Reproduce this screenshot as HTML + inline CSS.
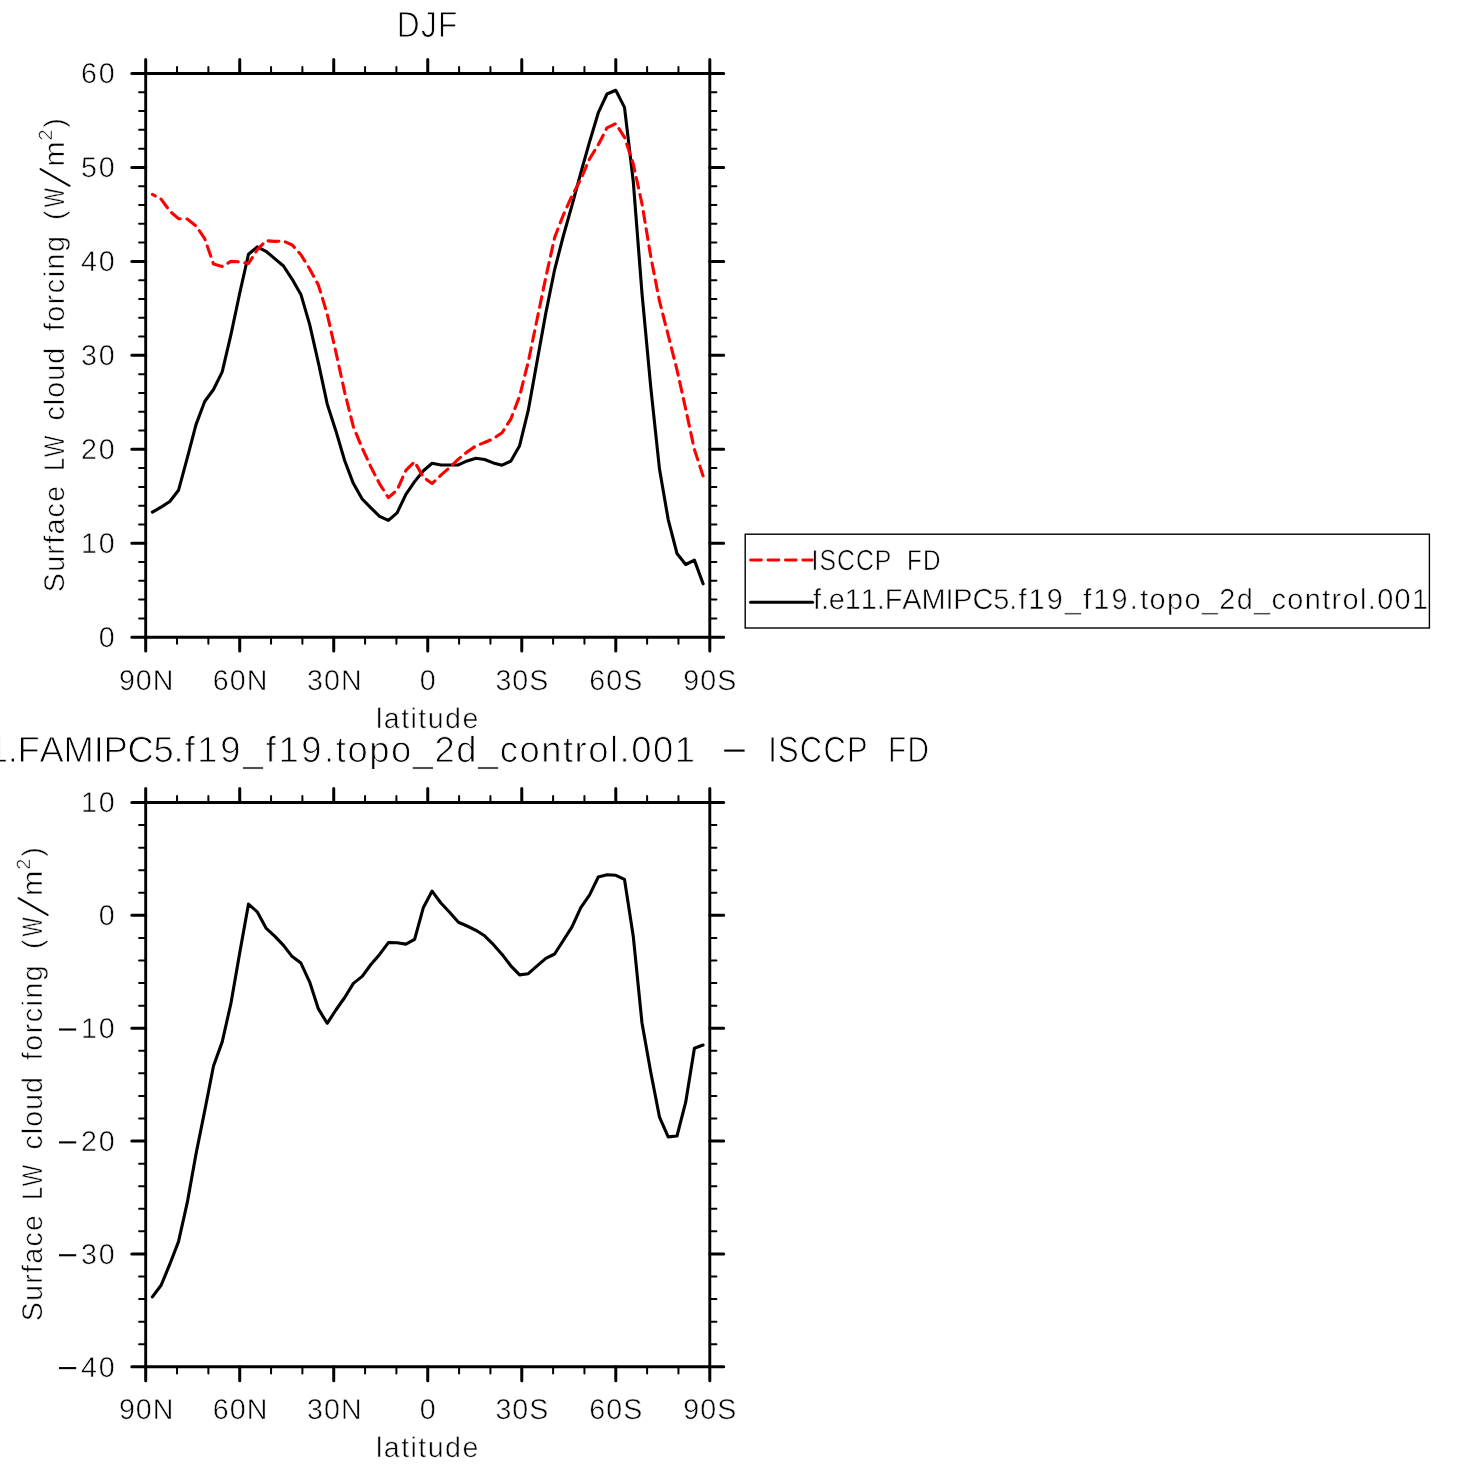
<!DOCTYPE html>
<html><head><meta charset="utf-8"><style>html,body{margin:0;padding:0;background:#fff;width:1469px;height:1469px;overflow:hidden}svg{display:block;will-change:transform}</style></head>
<body>
<svg width="1469" height="1469" viewBox="0 0 1469 1469">
<rect width="1469" height="1469" fill="#fff"/>
<g font-family="Liberation Sans, sans-serif" fill="#000" text-rendering="geometricPrecision">
<text transform="translate(396.80,36.80) scale(0.8701,1)" x="0.00 27.79 47.49" y="0" font-size="36.4" stroke="#fff" stroke-width="0.9">DJF</text>
<text transform="translate(-72.12,762.00) scale(1.0000,1)" x="0.00 9.87 19.75 39.75 59.76 79.76 89.64 111.64 135.68 165.76 175.63 199.67 225.72 245.73" y="0" font-size="36.4" stroke="#fff" stroke-width="0.9">f.e11.FAMIPC5.</text>
<text transform="translate(184.68,762.00) scale(1.0000,1)" x="0.00 12.68 35.49 58.31 81.12 93.80 116.61 139.43" y="0" font-size="36.4" stroke="#fff" stroke-width="0.9">f19_f19.</text>
<text transform="translate(335.75,762.00) scale(1.0000,1)" x="0.00 11.63 33.39 55.15 76.91 98.67 120.44 142.20 163.96 183.68 205.44 227.20 238.83 252.47 274.23 283.83 295.46 317.22 338.98" y="0" font-size="36.4" stroke="#fff" stroke-width="0.9">topo_2d_control.001</text>
<path d="M724.2,750.6 H744.6" stroke="#000" stroke-width="2.1"/>
<text transform="translate(768.15,762.00) scale(0.8485,1)" x="0.00 11.61 37.39 65.18 92.97" y="0" font-size="36.4" stroke="#fff" stroke-width="0.9">ISCCP</text>
<text transform="translate(888.07,762.00) scale(0.8147,1)" x="0.00 23.73" y="0" font-size="36.4" stroke="#fff" stroke-width="0.9">FD</text>
<text transform="translate(98.71,647.00) scale(1.0000,1)" x="0.00" y="0" font-size="28.6" stroke="#fff" stroke-width="0.55">0</text>
<text transform="translate(81.05,553.05) scale(1.0000,1)" x="0.00 17.67" y="0" font-size="28.6" stroke="#fff" stroke-width="0.55">10</text>
<text transform="translate(81.05,459.10) scale(1.0000,1)" x="0.00 17.67" y="0" font-size="28.6" stroke="#fff" stroke-width="0.55">20</text>
<text transform="translate(81.05,365.15) scale(1.0000,1)" x="0.00 17.67" y="0" font-size="28.6" stroke="#fff" stroke-width="0.55">30</text>
<text transform="translate(81.05,271.20) scale(1.0000,1)" x="0.00 17.67" y="0" font-size="28.6" stroke="#fff" stroke-width="0.55">40</text>
<text transform="translate(81.05,177.25) scale(1.0000,1)" x="0.00 17.67" y="0" font-size="28.6" stroke="#fff" stroke-width="0.55">50</text>
<text transform="translate(81.05,83.30) scale(1.0000,1)" x="0.00 17.67" y="0" font-size="28.6" stroke="#fff" stroke-width="0.55">60</text>
<text transform="translate(81.05,812.30) scale(1.0000,1)" x="0.00 17.67" y="0" font-size="28.6" stroke="#fff" stroke-width="0.55">10</text>
<text transform="translate(98.71,925.16) scale(1.0000,1)" x="0.00" y="0" font-size="28.6" stroke="#fff" stroke-width="0.55">0</text>
<text transform="translate(81.05,1038.02) scale(1.0000,1)" x="0.00 17.67" y="0" font-size="28.6" stroke="#fff" stroke-width="0.55">10</text>
<path d="M59,1029.52 H76.2" stroke="#000" stroke-width="2.1"/>
<text transform="translate(81.05,1150.88) scale(1.0000,1)" x="0.00 17.67" y="0" font-size="28.6" stroke="#fff" stroke-width="0.55">20</text>
<path d="M59,1142.38 H76.2" stroke="#000" stroke-width="2.1"/>
<text transform="translate(81.05,1263.74) scale(1.0000,1)" x="0.00 17.67" y="0" font-size="28.6" stroke="#fff" stroke-width="0.55">30</text>
<path d="M59,1255.24 H76.2" stroke="#000" stroke-width="2.1"/>
<text transform="translate(81.05,1376.60) scale(1.0000,1)" x="0.00 17.67" y="0" font-size="28.6" stroke="#fff" stroke-width="0.55">40</text>
<path d="M59,1368.10 H76.2" stroke="#000" stroke-width="2.1"/>
<text transform="translate(118.91,689.70) scale(1.0000,1)" x="0.00 16.96 33.91" y="0" font-size="28.6" stroke="#fff" stroke-width="0.55">90N</text>
<text transform="translate(118.91,1419.10) scale(1.0000,1)" x="0.00 16.96 33.91" y="0" font-size="28.6" stroke="#fff" stroke-width="0.55">90N</text>
<text transform="translate(212.87,689.70) scale(1.0000,1)" x="0.00 16.96 33.91" y="0" font-size="28.6" stroke="#fff" stroke-width="0.55">60N</text>
<text transform="translate(212.87,1419.10) scale(1.0000,1)" x="0.00 16.96 33.91" y="0" font-size="28.6" stroke="#fff" stroke-width="0.55">60N</text>
<text transform="translate(307.07,689.70) scale(1.0000,1)" x="0.00 16.96 33.91" y="0" font-size="28.6" stroke="#fff" stroke-width="0.55">30N</text>
<text transform="translate(307.07,1419.10) scale(1.0000,1)" x="0.00 16.96 33.91" y="0" font-size="28.6" stroke="#fff" stroke-width="0.55">30N</text>
<text transform="translate(419.80,689.70) scale(1.0000,1)" x="0.00" y="0" font-size="28.6" stroke="#fff" stroke-width="0.55">0</text>
<text transform="translate(419.80,1419.10) scale(1.0000,1)" x="0.00" y="0" font-size="28.6" stroke="#fff" stroke-width="0.55">0</text>
<text transform="translate(495.38,689.70) scale(1.0000,1)" x="0.00 16.96 33.91" y="0" font-size="28.6" stroke="#fff" stroke-width="0.55">30S</text>
<text transform="translate(495.38,1419.10) scale(1.0000,1)" x="0.00 16.96 33.91" y="0" font-size="28.6" stroke="#fff" stroke-width="0.55">30S</text>
<text transform="translate(589.22,689.70) scale(1.0000,1)" x="0.00 16.96 33.91" y="0" font-size="28.6" stroke="#fff" stroke-width="0.55">60S</text>
<text transform="translate(589.22,1419.10) scale(1.0000,1)" x="0.00 16.96 33.91" y="0" font-size="28.6" stroke="#fff" stroke-width="0.55">60S</text>
<text transform="translate(683.29,689.70) scale(1.0000,1)" x="0.00 16.96 33.91" y="0" font-size="28.6" stroke="#fff" stroke-width="0.55">90S</text>
<text transform="translate(683.29,1419.10) scale(1.0000,1)" x="0.00 16.96 33.91" y="0" font-size="28.6" stroke="#fff" stroke-width="0.55">90S</text>
<text transform="translate(375.97,727.80) scale(1.0000,1)" x="0.00 7.81 25.17 34.57 42.37 51.77 69.13 86.49" y="0" font-size="28.6" stroke="#fff" stroke-width="0.55">latitude</text>
<text transform="translate(375.97,1456.80) scale(1.0000,1)" x="0.00 7.81 25.17 34.57 42.37 51.77 69.13 86.49" y="0" font-size="28.6" stroke="#fff" stroke-width="0.55">latitude</text>
<text transform="translate(63.70,592.20) rotate(-90) scale(1.0000,1)" x="0.00 20.36 37.55 48.36 57.59 74.78 90.36" y="0" font-size="28.6" stroke="#fff" stroke-width="0.55">Surface</text>
<text transform="translate(63.70,470.46) rotate(-90) scale(0.7936,1)" x="0.00 16.91" y="0" font-size="28.6" stroke="#fff" stroke-width="0.55">LW</text>
<text transform="translate(63.70,420.51) rotate(-90) scale(1.0000,1)" x="0.00 15.35 22.75 39.70 56.65" y="0" font-size="28.6" stroke="#fff" stroke-width="0.55">cloud</text>
<text transform="translate(63.70,331.10) rotate(-90) scale(1.0000,1)" x="0.00 9.46 26.89 37.93 53.75 61.62 79.04" y="0" font-size="28.6" stroke="#fff" stroke-width="0.55">forcing</text>
<text transform="translate(63.70,219.98) rotate(-90) scale(1.0023,1)" x="0.00" y="0" font-size="28.6" stroke="#fff" stroke-width="0.55">(</text>
<text transform="translate(63.70,207.29) rotate(-90) scale(0.7097,1)" x="0.00" y="0" font-size="28.6" stroke="#fff" stroke-width="0.55">W</text>
<text transform="translate(63.70,166.83) rotate(-90) scale(1.0679,1)" x="0.00" y="0" font-size="28.6" stroke="#fff" stroke-width="0.55">m</text>
<text transform="translate(63.70,127.77) rotate(-90) scale(1.0023,1)" x="0.00" y="0" font-size="28.6" stroke="#fff" stroke-width="0.55">)</text>
<path d="M40.50,169.10 L69.60,185.80" stroke="#000" stroke-width="2.0" stroke-linecap="round"/>
<text transform="translate(51.80,140.60) rotate(-90) scale(1.040,1)" x="0" y="0" font-size="19.2" stroke="#fff" stroke-width="0.55">2</text>
<text transform="translate(41.70,1321.30) rotate(-90) scale(1.0000,1)" x="0.00 20.36 37.55 48.36 57.59 74.78 90.36" y="0" font-size="28.6" stroke="#fff" stroke-width="0.55">Surface</text>
<text transform="translate(41.70,1199.56) rotate(-90) scale(0.7936,1)" x="0.00 16.91" y="0" font-size="28.6" stroke="#fff" stroke-width="0.55">LW</text>
<text transform="translate(41.70,1149.61) rotate(-90) scale(1.0000,1)" x="0.00 15.35 22.75 39.70 56.65" y="0" font-size="28.6" stroke="#fff" stroke-width="0.55">cloud</text>
<text transform="translate(41.70,1060.20) rotate(-90) scale(1.0000,1)" x="0.00 9.46 26.89 37.93 53.75 61.62 79.04" y="0" font-size="28.6" stroke="#fff" stroke-width="0.55">forcing</text>
<text transform="translate(41.70,949.08) rotate(-90) scale(1.0023,1)" x="0.00" y="0" font-size="28.6" stroke="#fff" stroke-width="0.55">(</text>
<text transform="translate(41.70,936.39) rotate(-90) scale(0.7097,1)" x="0.00" y="0" font-size="28.6" stroke="#fff" stroke-width="0.55">W</text>
<text transform="translate(41.70,895.93) rotate(-90) scale(1.0679,1)" x="0.00" y="0" font-size="28.6" stroke="#fff" stroke-width="0.55">m</text>
<text transform="translate(41.70,856.87) rotate(-90) scale(1.0023,1)" x="0.00" y="0" font-size="28.6" stroke="#fff" stroke-width="0.55">)</text>
<path d="M18.50,898.20 L47.60,914.90" stroke="#000" stroke-width="2.0" stroke-linecap="round"/>
<text transform="translate(29.80,869.70) rotate(-90) scale(1.040,1)" x="0" y="0" font-size="19.2" stroke="#fff" stroke-width="0.55">2</text>
<rect x="745.2" y="534.2" width="684.2" height="93.8" fill="none" stroke="#000" stroke-width="1.4"/>
<path d="M750.6,560 H812.6" stroke="#f00" stroke-width="2.9" stroke-dasharray="10.8 6.6" stroke-linecap="round"/>
<path d="M750.6,602.3 H812.6" stroke="#000" stroke-width="3.1" stroke-linecap="round"/>
<text transform="translate(811.51,570.00) scale(0.8580,1)" x="0.00 9.23 29.71 51.78 73.85" y="0" font-size="28.9" stroke="#fff" stroke-width="0.55">ISCCP</text>
<text transform="translate(907.12,570.00) scale(0.8368,1)" x="0.00 18.85" y="0" font-size="28.9" stroke="#fff" stroke-width="0.55">FD</text>
<text transform="translate(812.99,609.00) scale(1.0000,1)" x="0.00 7.93 15.87 31.85 47.82 63.80 71.73 89.29 108.47 132.45 140.39 159.57 180.34 196.32" y="0" font-size="28.9" stroke="#fff" stroke-width="0.55">f.e11.FAMIPC5.</text>
<text transform="translate(1018.39,609.00) scale(1.0000,1)" x="0.00 10.17 28.39 46.60 64.82 74.99 93.20 111.42" y="0" font-size="28.9" stroke="#fff" stroke-width="0.55">f19_f19.</text>
<text transform="translate(1140.16,609.00) scale(1.0000,1)" x="0.00 9.39 26.82 44.24 61.67 79.10 96.53 113.96 131.39 147.20 164.63 182.06 191.44 202.42 219.85 227.63 237.02 254.45 271.88" y="0" font-size="28.9" stroke="#fff" stroke-width="0.55">topo_2d_control.001</text>
</g>
<path d="M145.7,73.5 H709.8 V637.2 H145.7 Z" fill="none" stroke="#000" stroke-width="2.9"/>
<path d="M145.70,73.5 V59.6 M145.70,637.2 V651.1" stroke="#000" stroke-width="3" stroke-linecap="round"/>
<path d="M177.04,73.5 V66.9 M177.04,637.2 V643.8000000000001" stroke="#000" stroke-width="2" stroke-linecap="round"/>
<path d="M208.38,73.5 V66.9 M208.38,637.2 V643.8000000000001" stroke="#000" stroke-width="2" stroke-linecap="round"/>
<path d="M239.72,73.5 V59.6 M239.72,637.2 V651.1" stroke="#000" stroke-width="3" stroke-linecap="round"/>
<path d="M271.06,73.5 V66.9 M271.06,637.2 V643.8000000000001" stroke="#000" stroke-width="2" stroke-linecap="round"/>
<path d="M302.39,73.5 V66.9 M302.39,637.2 V643.8000000000001" stroke="#000" stroke-width="2" stroke-linecap="round"/>
<path d="M333.73,73.5 V59.6 M333.73,637.2 V651.1" stroke="#000" stroke-width="3" stroke-linecap="round"/>
<path d="M365.07,73.5 V66.9 M365.07,637.2 V643.8000000000001" stroke="#000" stroke-width="2" stroke-linecap="round"/>
<path d="M396.41,73.5 V66.9 M396.41,637.2 V643.8000000000001" stroke="#000" stroke-width="2" stroke-linecap="round"/>
<path d="M427.75,73.5 V59.6 M427.75,637.2 V651.1" stroke="#000" stroke-width="3" stroke-linecap="round"/>
<path d="M459.09,73.5 V66.9 M459.09,637.2 V643.8000000000001" stroke="#000" stroke-width="2" stroke-linecap="round"/>
<path d="M490.43,73.5 V66.9 M490.43,637.2 V643.8000000000001" stroke="#000" stroke-width="2" stroke-linecap="round"/>
<path d="M521.77,73.5 V59.6 M521.77,637.2 V651.1" stroke="#000" stroke-width="3" stroke-linecap="round"/>
<path d="M553.11,73.5 V66.9 M553.11,637.2 V643.8000000000001" stroke="#000" stroke-width="2" stroke-linecap="round"/>
<path d="M584.44,73.5 V66.9 M584.44,637.2 V643.8000000000001" stroke="#000" stroke-width="2" stroke-linecap="round"/>
<path d="M615.78,73.5 V59.6 M615.78,637.2 V651.1" stroke="#000" stroke-width="3" stroke-linecap="round"/>
<path d="M647.12,73.5 V66.9 M647.12,637.2 V643.8000000000001" stroke="#000" stroke-width="2" stroke-linecap="round"/>
<path d="M678.46,73.5 V66.9 M678.46,637.2 V643.8000000000001" stroke="#000" stroke-width="2" stroke-linecap="round"/>
<path d="M709.80,73.5 V59.6 M709.80,637.2 V651.1" stroke="#000" stroke-width="3" stroke-linecap="round"/>
<path d="M145.7,637.20 H131.79999999999998 M709.8,637.20 H723.6999999999999" stroke="#000" stroke-width="3" stroke-linecap="round"/>
<path d="M145.7,618.41 H139.1 M709.8,618.41 H716.4" stroke="#000" stroke-width="2" stroke-linecap="round"/>
<path d="M145.7,599.62 H139.1 M709.8,599.62 H716.4" stroke="#000" stroke-width="2" stroke-linecap="round"/>
<path d="M145.7,580.83 H139.1 M709.8,580.83 H716.4" stroke="#000" stroke-width="2" stroke-linecap="round"/>
<path d="M145.7,562.04 H139.1 M709.8,562.04 H716.4" stroke="#000" stroke-width="2" stroke-linecap="round"/>
<path d="M145.7,543.25 H131.79999999999998 M709.8,543.25 H723.6999999999999" stroke="#000" stroke-width="3" stroke-linecap="round"/>
<path d="M145.7,524.46 H139.1 M709.8,524.46 H716.4" stroke="#000" stroke-width="2" stroke-linecap="round"/>
<path d="M145.7,505.67 H139.1 M709.8,505.67 H716.4" stroke="#000" stroke-width="2" stroke-linecap="round"/>
<path d="M145.7,486.88 H139.1 M709.8,486.88 H716.4" stroke="#000" stroke-width="2" stroke-linecap="round"/>
<path d="M145.7,468.09 H139.1 M709.8,468.09 H716.4" stroke="#000" stroke-width="2" stroke-linecap="round"/>
<path d="M145.7,449.30 H131.79999999999998 M709.8,449.30 H723.6999999999999" stroke="#000" stroke-width="3" stroke-linecap="round"/>
<path d="M145.7,430.51 H139.1 M709.8,430.51 H716.4" stroke="#000" stroke-width="2" stroke-linecap="round"/>
<path d="M145.7,411.72 H139.1 M709.8,411.72 H716.4" stroke="#000" stroke-width="2" stroke-linecap="round"/>
<path d="M145.7,392.93 H139.1 M709.8,392.93 H716.4" stroke="#000" stroke-width="2" stroke-linecap="round"/>
<path d="M145.7,374.14 H139.1 M709.8,374.14 H716.4" stroke="#000" stroke-width="2" stroke-linecap="round"/>
<path d="M145.7,355.35 H131.79999999999998 M709.8,355.35 H723.6999999999999" stroke="#000" stroke-width="3" stroke-linecap="round"/>
<path d="M145.7,336.56 H139.1 M709.8,336.56 H716.4" stroke="#000" stroke-width="2" stroke-linecap="round"/>
<path d="M145.7,317.77 H139.1 M709.8,317.77 H716.4" stroke="#000" stroke-width="2" stroke-linecap="round"/>
<path d="M145.7,298.98 H139.1 M709.8,298.98 H716.4" stroke="#000" stroke-width="2" stroke-linecap="round"/>
<path d="M145.7,280.19 H139.1 M709.8,280.19 H716.4" stroke="#000" stroke-width="2" stroke-linecap="round"/>
<path d="M145.7,261.40 H131.79999999999998 M709.8,261.40 H723.6999999999999" stroke="#000" stroke-width="3" stroke-linecap="round"/>
<path d="M145.7,242.61 H139.1 M709.8,242.61 H716.4" stroke="#000" stroke-width="2" stroke-linecap="round"/>
<path d="M145.7,223.82 H139.1 M709.8,223.82 H716.4" stroke="#000" stroke-width="2" stroke-linecap="round"/>
<path d="M145.7,205.03 H139.1 M709.8,205.03 H716.4" stroke="#000" stroke-width="2" stroke-linecap="round"/>
<path d="M145.7,186.24 H139.1 M709.8,186.24 H716.4" stroke="#000" stroke-width="2" stroke-linecap="round"/>
<path d="M145.7,167.45 H131.79999999999998 M709.8,167.45 H723.6999999999999" stroke="#000" stroke-width="3" stroke-linecap="round"/>
<path d="M145.7,148.66 H139.1 M709.8,148.66 H716.4" stroke="#000" stroke-width="2" stroke-linecap="round"/>
<path d="M145.7,129.87 H139.1 M709.8,129.87 H716.4" stroke="#000" stroke-width="2" stroke-linecap="round"/>
<path d="M145.7,111.08 H139.1 M709.8,111.08 H716.4" stroke="#000" stroke-width="2" stroke-linecap="round"/>
<path d="M145.7,92.29 H139.1 M709.8,92.29 H716.4" stroke="#000" stroke-width="2" stroke-linecap="round"/>
<path d="M145.7,73.50 H131.79999999999998 M709.8,73.50 H723.6999999999999" stroke="#000" stroke-width="3" stroke-linecap="round"/>
<path d="M145.7,802.5 H709.8 V1366.8 H145.7 Z" fill="none" stroke="#000" stroke-width="2.9"/>
<path d="M145.70,802.5 V788.6 M145.70,1366.8 V1380.7" stroke="#000" stroke-width="3" stroke-linecap="round"/>
<path d="M177.04,802.5 V795.9 M177.04,1366.8 V1373.3999999999999" stroke="#000" stroke-width="2" stroke-linecap="round"/>
<path d="M208.38,802.5 V795.9 M208.38,1366.8 V1373.3999999999999" stroke="#000" stroke-width="2" stroke-linecap="round"/>
<path d="M239.72,802.5 V788.6 M239.72,1366.8 V1380.7" stroke="#000" stroke-width="3" stroke-linecap="round"/>
<path d="M271.06,802.5 V795.9 M271.06,1366.8 V1373.3999999999999" stroke="#000" stroke-width="2" stroke-linecap="round"/>
<path d="M302.39,802.5 V795.9 M302.39,1366.8 V1373.3999999999999" stroke="#000" stroke-width="2" stroke-linecap="round"/>
<path d="M333.73,802.5 V788.6 M333.73,1366.8 V1380.7" stroke="#000" stroke-width="3" stroke-linecap="round"/>
<path d="M365.07,802.5 V795.9 M365.07,1366.8 V1373.3999999999999" stroke="#000" stroke-width="2" stroke-linecap="round"/>
<path d="M396.41,802.5 V795.9 M396.41,1366.8 V1373.3999999999999" stroke="#000" stroke-width="2" stroke-linecap="round"/>
<path d="M427.75,802.5 V788.6 M427.75,1366.8 V1380.7" stroke="#000" stroke-width="3" stroke-linecap="round"/>
<path d="M459.09,802.5 V795.9 M459.09,1366.8 V1373.3999999999999" stroke="#000" stroke-width="2" stroke-linecap="round"/>
<path d="M490.43,802.5 V795.9 M490.43,1366.8 V1373.3999999999999" stroke="#000" stroke-width="2" stroke-linecap="round"/>
<path d="M521.77,802.5 V788.6 M521.77,1366.8 V1380.7" stroke="#000" stroke-width="3" stroke-linecap="round"/>
<path d="M553.11,802.5 V795.9 M553.11,1366.8 V1373.3999999999999" stroke="#000" stroke-width="2" stroke-linecap="round"/>
<path d="M584.44,802.5 V795.9 M584.44,1366.8 V1373.3999999999999" stroke="#000" stroke-width="2" stroke-linecap="round"/>
<path d="M615.78,802.5 V788.6 M615.78,1366.8 V1380.7" stroke="#000" stroke-width="3" stroke-linecap="round"/>
<path d="M647.12,802.5 V795.9 M647.12,1366.8 V1373.3999999999999" stroke="#000" stroke-width="2" stroke-linecap="round"/>
<path d="M678.46,802.5 V795.9 M678.46,1366.8 V1373.3999999999999" stroke="#000" stroke-width="2" stroke-linecap="round"/>
<path d="M709.80,802.5 V788.6 M709.80,1366.8 V1380.7" stroke="#000" stroke-width="3" stroke-linecap="round"/>
<path d="M145.7,1366.80 H131.79999999999998 M709.8,1366.80 H723.6999999999999" stroke="#000" stroke-width="3" stroke-linecap="round"/>
<path d="M145.7,1344.23 H139.1 M709.8,1344.23 H716.4" stroke="#000" stroke-width="2" stroke-linecap="round"/>
<path d="M145.7,1321.66 H139.1 M709.8,1321.66 H716.4" stroke="#000" stroke-width="2" stroke-linecap="round"/>
<path d="M145.7,1299.08 H139.1 M709.8,1299.08 H716.4" stroke="#000" stroke-width="2" stroke-linecap="round"/>
<path d="M145.7,1276.51 H139.1 M709.8,1276.51 H716.4" stroke="#000" stroke-width="2" stroke-linecap="round"/>
<path d="M145.7,1253.94 H131.79999999999998 M709.8,1253.94 H723.6999999999999" stroke="#000" stroke-width="3" stroke-linecap="round"/>
<path d="M145.7,1231.37 H139.1 M709.8,1231.37 H716.4" stroke="#000" stroke-width="2" stroke-linecap="round"/>
<path d="M145.7,1208.80 H139.1 M709.8,1208.80 H716.4" stroke="#000" stroke-width="2" stroke-linecap="round"/>
<path d="M145.7,1186.22 H139.1 M709.8,1186.22 H716.4" stroke="#000" stroke-width="2" stroke-linecap="round"/>
<path d="M145.7,1163.65 H139.1 M709.8,1163.65 H716.4" stroke="#000" stroke-width="2" stroke-linecap="round"/>
<path d="M145.7,1141.08 H131.79999999999998 M709.8,1141.08 H723.6999999999999" stroke="#000" stroke-width="3" stroke-linecap="round"/>
<path d="M145.7,1118.51 H139.1 M709.8,1118.51 H716.4" stroke="#000" stroke-width="2" stroke-linecap="round"/>
<path d="M145.7,1095.94 H139.1 M709.8,1095.94 H716.4" stroke="#000" stroke-width="2" stroke-linecap="round"/>
<path d="M145.7,1073.36 H139.1 M709.8,1073.36 H716.4" stroke="#000" stroke-width="2" stroke-linecap="round"/>
<path d="M145.7,1050.79 H139.1 M709.8,1050.79 H716.4" stroke="#000" stroke-width="2" stroke-linecap="round"/>
<path d="M145.7,1028.22 H131.79999999999998 M709.8,1028.22 H723.6999999999999" stroke="#000" stroke-width="3" stroke-linecap="round"/>
<path d="M145.7,1005.65 H139.1 M709.8,1005.65 H716.4" stroke="#000" stroke-width="2" stroke-linecap="round"/>
<path d="M145.7,983.08 H139.1 M709.8,983.08 H716.4" stroke="#000" stroke-width="2" stroke-linecap="round"/>
<path d="M145.7,960.50 H139.1 M709.8,960.50 H716.4" stroke="#000" stroke-width="2" stroke-linecap="round"/>
<path d="M145.7,937.93 H139.1 M709.8,937.93 H716.4" stroke="#000" stroke-width="2" stroke-linecap="round"/>
<path d="M145.7,915.36 H131.79999999999998 M709.8,915.36 H723.6999999999999" stroke="#000" stroke-width="3" stroke-linecap="round"/>
<path d="M145.7,892.79 H139.1 M709.8,892.79 H716.4" stroke="#000" stroke-width="2" stroke-linecap="round"/>
<path d="M145.7,870.22 H139.1 M709.8,870.22 H716.4" stroke="#000" stroke-width="2" stroke-linecap="round"/>
<path d="M145.7,847.64 H139.1 M709.8,847.64 H716.4" stroke="#000" stroke-width="2" stroke-linecap="round"/>
<path d="M145.7,825.07 H139.1 M709.8,825.07 H716.4" stroke="#000" stroke-width="2" stroke-linecap="round"/>
<path d="M145.7,802.50 H131.79999999999998 M709.8,802.50 H723.6999999999999" stroke="#000" stroke-width="3" stroke-linecap="round"/>
<path d="M152.4,512.1 L161.1,507.1 L169.8,501.5 L178.5,490.3 L187.3,457.9 L196.0,424.6 L204.7,401.5 L213.5,389.5 L222.2,371.9 L231.0,334.3 L239.7,293.3 L248.5,254.2 L257.2,246.9 L266.0,251.3 L274.7,258.6 L283.5,266.0 L292.2,279.3 L300.9,294.4 L309.7,324.6 L318.4,362.9 L327.2,403.9 L335.9,430.9 L344.7,460.7 L353.4,483.6 L362.2,499.0 L370.9,507.9 L379.6,516.3 L388.4,520.4 L397.1,512.8 L405.9,494.3 L414.6,481.6 L423.4,470.7 L432.1,463.3 L440.9,465.0 L449.6,465.0 L458.4,464.9 L467.1,460.9 L475.9,458.3 L484.6,459.5 L493.3,462.9 L502.1,465.2 L510.8,461.2 L519.6,445.7 L528.3,410.2 L537.1,361.3 L545.8,313.1 L554.6,269.8 L563.3,236.0 L572.0,205.3 L580.8,172.8 L589.5,142.2 L598.3,112.7 L607.0,94.0 L615.8,90.3 L624.5,107.4 L633.3,181.8 L642.0,293.4 L650.8,387.7 L659.5,469.1 L668.2,519.6 L677.0,553.5 L685.7,564.5 L694.4,560.1 L703.1,583.8" fill="none" stroke="#000" stroke-width="3.1" stroke-linejoin="round" stroke-linecap="round"/>
<path d="M152.4,1296.9 L161.1,1285.3 L169.8,1264.2 L178.5,1241.6 L187.3,1202.4 L196.0,1154.0 L204.7,1110.9 L213.5,1066.0 L222.2,1041.9 L231.0,1003.0 L239.7,953.0 L248.5,904.1 L257.2,911.8 L266.0,928.1 L274.7,936.1 L283.5,945.4 L292.2,956.6 L300.9,963.1 L309.7,982.1 L318.4,1008.9 L327.2,1023.3 L335.9,1010.0 L344.7,997.5 L353.4,983.4 L362.2,976.4 L370.9,964.5 L379.6,954.4 L388.4,942.6 L397.1,942.7 L405.9,944.1 L414.6,939.3 L423.4,907.4 L432.1,891.1 L440.9,903.0 L449.6,912.3 L458.4,922.3 L467.1,926.0 L475.9,930.3 L484.6,935.8 L493.3,944.4 L502.1,954.4 L510.8,965.8 L519.6,974.9 L528.3,973.7 L537.1,965.8 L545.8,958.3 L554.6,954.0 L563.3,940.5 L572.0,926.8 L580.8,907.6 L589.5,895.1 L598.3,877.0 L607.0,874.8 L615.8,875.3 L624.5,879.4 L633.3,936.6 L642.0,1023.0 L650.8,1072.6 L659.5,1117.1 L668.2,1136.9 L677.0,1136.0 L685.7,1102.2 L694.4,1048.3 L703.1,1045.0" fill="none" stroke="#000" stroke-width="3.1" stroke-linejoin="round" stroke-linecap="round"/>
<path d="M152.4,194.4 L161.1,199.1 L169.8,211.1 L178.5,218.7 L187.3,219.0 L196.0,225.9 L204.7,238.7 L213.5,264.1 L222.2,266.5 L231.0,261.4 L239.7,261.9 L248.5,263.5 L257.2,249.9 L266.0,240.7 L274.7,241.4 L283.5,241.0 L292.2,245.0 L300.9,254.7 L309.7,269.0 L318.4,285.1 L327.2,314.0 L335.9,352.1 L344.7,392.3 L353.4,426.9 L362.2,448.1 L370.9,467.0 L379.6,483.8 L388.4,497.7 L397.1,490.0 L405.9,470.3 L414.6,461.7 L423.4,477.3 L432.1,483.5 L440.9,475.2 L449.6,467.6 L458.4,459.1 L467.1,452.0 L475.9,445.8 L484.6,442.5 L493.3,438.7 L502.1,432.7 L510.8,419.2 L519.6,396.2 L528.3,361.6 L537.1,319.3 L545.8,277.4 L554.6,237.6 L563.3,215.0 L572.0,195.8 L580.8,179.2 L589.5,159.0 L598.3,144.7 L607.0,127.8 L615.8,123.6 L624.5,137.3 L633.3,164.1 L642.0,203.8 L650.8,256.8 L659.5,301.2 L668.2,335.2 L677.0,369.8 L685.7,409.0 L694.4,449.5 L703.1,475.9" fill="none" stroke="#f00" stroke-width="3.1" stroke-dasharray="10.8 6.6" stroke-dashoffset="7.6" stroke-linecap="round" stroke-linejoin="round"/>
</svg>
</body></html>
